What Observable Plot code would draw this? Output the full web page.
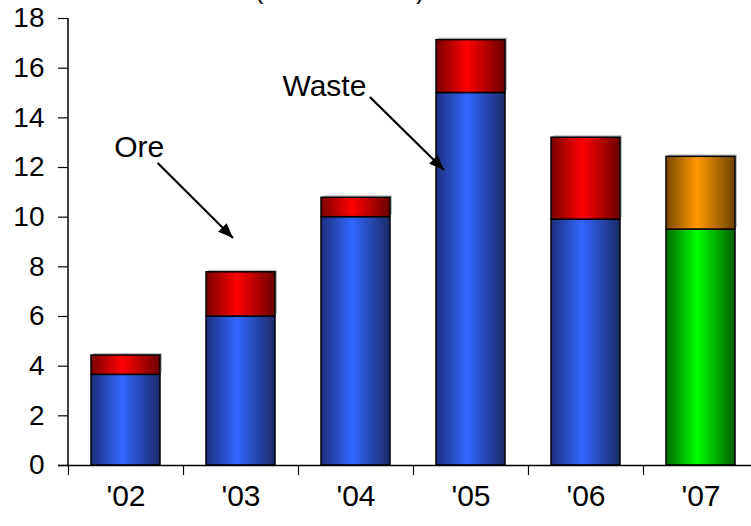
<!DOCTYPE html>
<html><head><meta charset="utf-8">
<script src="https://cdn.jsdelivr.net/npm/d3@7"></script>
<script src="https://cdn.jsdelivr.net/npm/@observablehq/plot@0.6"></script>
<style>
body{margin:0;background:#fff;}
svg{font-family:"Liberation Sans",Arial,sans-serif;}
</style>
</head><body><div id="chart"></div>
<script>
const years = ["'02", "'03", "'04", "'05", "'06", "'07"];
const waste = [3.65, 6.0, 10.0, 15.0, 9.9, 9.5];
const ore = [0.78, 1.78, 0.78, 2.13, 3.3, 2.93];
const forecast = [false, false, false, false, false, true];
const yTicks = [0, 2, 4, 6, 8, 10, 12, 14, 16, 18];
const title = "Material Moved (million tonnes)";
// annotation positions: x in category-index units ('02 = 0), y in data units
const annLabels = ["Ore", "Waste"];
const annTextX = [0.12, 1.73];
const annTextY = [12.4, 14.86];
const annFromX = [0.28, 2.125];
const annFromY = [12.16, 14.82];
const annToX = [0.935, 2.77];
const annToY = [9.14, 11.88];

const bottomRows = years.map((y, i) => ({year: y, y1: 0, y2: waste[i], grad: forecast[i] ? "url(#gGreen)" : "url(#gBlue)"}));
const topRows = years.map((y, i) => ({year: y, y1: waste[i], y2: waste[i] + ore[i], grad: forecast[i] ? "url(#gOrange)" : "url(#gRed)"}));
const allRows = bottomRows.concat(topRows);

const W = 751, H = 526, ML = 68, MT = 18, MB = 61;
const step = (758 - ML) / years.length;

const plot = Plot.plot({
  width: W, height: H,
  marginLeft: ML, marginRight: 0, marginTop: MT, marginBottom: MB,
  style: {fontFamily: "'Liberation Sans', Arial, sans-serif", background: "#fff", color: "#000"},
  x: {domain: years, range: [ML, 758], paddingInner: 0.4, paddingOuter: 0.2, axis: null},
  y: {domain: [0, 18], axis: null},
  color: {type: "identity"},
  marks: [
    Plot.barY(topRows, {x: "year", y1: "y1", y2: "y2", fill: "#c0c0c0", dx: 2, dy: -2}),
    Plot.barY(allRows, {x: "year", y1: "y1", y2: "y2", fill: "grad", stroke: "#000", strokeWidth: 1.5}),
    Plot.ruleY([0], {stroke: "#000", strokeWidth: 1.5, insetLeft: -10}),
    Plot.axisY(yTicks, {tickSize: 10, tickPadding: 14, fontSize: 28, tickFormat: d => String(d), strokeWidth: 1.2, label: null}),
    Plot.axisX(years, {tickSize: 10, tickFormat: () => "", dx: -step / 2, strokeWidth: 1.2, label: null}),
    Plot.axisX(years, {tickSize: 0, tickPadding: 19, fontSize: 30, label: null})
  ]
});
document.getElementById("chart").appendChild(plot);

const svg = d3.select(plot);
const xs = plot.scale("x"), ys = plot.scale("y");
const x0 = xs.apply(years[0]) + xs.bandwidth / 2;
const px = i => x0 + i * xs.step;
const py = v => ys.apply(v);

const defs = svg.insert("defs", ":first-child");
function grad(id, dark, bright, dark2) {
  const g = defs.append("linearGradient").attr("id", id).attr("x1", "0").attr("x2", "1").attr("y1", "0").attr("y2", "0");
  g.append("stop").attr("offset", "0").attr("stop-color", dark);
  g.append("stop").attr("offset", "0.45").attr("stop-color", bright);
  g.append("stop").attr("offset", "1").attr("stop-color", dark2);
}
grad("gBlue", "#1c2f7e", "#3366ff", "#1a2a68");
grad("gRed", "#7a0000", "#ff0000", "#6a0000");
grad("gGreen", "#006a00", "#00ff00", "#006000");
grad("gOrange", "#7a4800", "#ff9900", "#6e4200");
defs.append("marker").attr("id", "ah").attr("markerUnits", "userSpaceOnUse")
  .attr("viewBox", "0 0 15 12").attr("refX", 15).attr("refY", 6)
  .attr("markerWidth", 15).attr("markerHeight", 12).attr("orient", "auto")
  .append("path").attr("d", "M0,0L15,6L0,12Z").attr("fill", "#000");

// y axis line
svg.append("line").attr("x1", ML).attr("x2", ML).attr("y1", py(18)).attr("y2", py(0))
  .attr("stroke", "#000").attr("stroke-width", 1.5);

// title (mostly above the visible area, as in the cropped reference)
svg.append("text").attr("x", px(2.6)).attr("y", -1).attr("text-anchor", "end")
  .attr("font-size", 25).attr("fill", "#000").text(title);

annLabels.forEach((t, i) => {
  svg.append("text").attr("x", px(annTextX[i])).attr("y", py(annTextY[i]))
    .attr("text-anchor", "middle").attr("font-size", 30).attr("fill", "#000").text(t);
  svg.append("line").attr("x1", px(annFromX[i])).attr("y1", py(annFromY[i]))
    .attr("x2", px(annToX[i])).attr("y2", py(annToY[i]))
    .attr("stroke", "#000").attr("stroke-width", 2.2).attr("marker-end", "url(#ah)");
});
</script>
</body></html>
